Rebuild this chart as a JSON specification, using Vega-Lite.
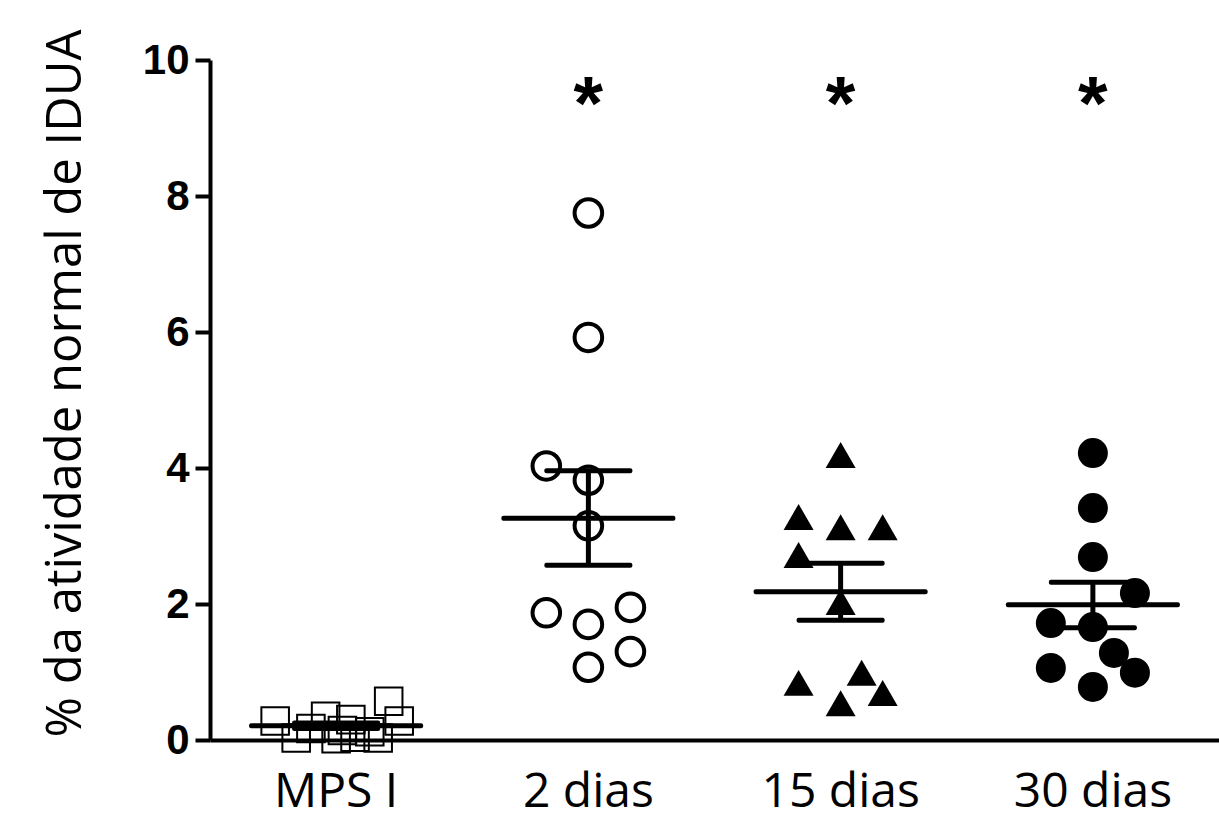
{
  "$schema": "https://vega.github.io/schema/vega-lite/v6.json",
  "autosize": {"type": "none"},
  "padding": {"left": 210, "top": 60, "right": 0, "bottom": 75},
  "width": 1009,
  "height": 680,
  "background": "white",
  "config": {"view": {"stroke": null}},
  "datasets": {
    "points": [
      {"group": "MPS I", "col": -2.9, "value": 0.28},
      {"group": "MPS I", "col": -1.9, "value": 0.03},
      {"group": "MPS I", "col": -0.5, "value": 0.35},
      {"group": "MPS I", "col": 0.0, "value": 0.02},
      {"group": "MPS I", "col": 0.7, "value": 0.30},
      {"group": "MPS I", "col": 0.9, "value": 0.04},
      {"group": "MPS I", "col": 2.5, "value": 0.57},
      {"group": "MPS I", "col": 2.0, "value": 0.03},
      {"group": "MPS I", "col": 3.0, "value": 0.28},
      {"group": "MPS I", "col": -1.2, "value": 0.17},
      {"group": "MPS I", "col": 0.3, "value": 0.14},
      {"group": "MPS I", "col": 1.6, "value": 0.12},
      {"group": "2 dias", "col": 0, "value": 7.75},
      {"group": "2 dias", "col": 0, "value": 5.92},
      {"group": "2 dias", "col": -2, "value": 4.03},
      {"group": "2 dias", "col": 0, "value": 3.82},
      {"group": "2 dias", "col": 0, "value": 3.15},
      {"group": "2 dias", "col": -2, "value": 1.87},
      {"group": "2 dias", "col": 0, "value": 1.70},
      {"group": "2 dias", "col": 2, "value": 1.95},
      {"group": "2 dias", "col": 0, "value": 1.07},
      {"group": "2 dias", "col": 2, "value": 1.30},
      {"group": "15 dias", "col": 0, "value": 4.19},
      {"group": "15 dias", "col": -2, "value": 3.28},
      {"group": "15 dias", "col": 0, "value": 3.13},
      {"group": "15 dias", "col": 2, "value": 3.13},
      {"group": "15 dias", "col": -2, "value": 2.72},
      {"group": "15 dias", "col": 0, "value": 2.03},
      {"group": "15 dias", "col": -2, "value": 0.84},
      {"group": "15 dias", "col": 1, "value": 0.99},
      {"group": "15 dias", "col": 2, "value": 0.69},
      {"group": "15 dias", "col": 0, "value": 0.54},
      {"group": "30 dias", "col": 0, "value": 4.22},
      {"group": "30 dias", "col": 0, "value": 3.41},
      {"group": "30 dias", "col": 0, "value": 2.69},
      {"group": "30 dias", "col": 2, "value": 2.16},
      {"group": "30 dias", "col": -2, "value": 1.72},
      {"group": "30 dias", "col": 0, "value": 1.66},
      {"group": "30 dias", "col": 1, "value": 1.28},
      {"group": "30 dias", "col": -2, "value": 1.06},
      {"group": "30 dias", "col": 2, "value": 0.99},
      {"group": "30 dias", "col": 0, "value": 0.78}
    ],
    "summary": [
      {"group": "MPS I", "mean": 0.21, "lo": 0.17, "hi": 0.25},
      {"group": "2 dias", "mean": 3.26, "lo": 2.57, "hi": 3.96},
      {"group": "15 dias", "mean": 2.18, "lo": 1.76, "hi": 2.6},
      {"group": "30 dias", "mean": 1.99, "lo": 1.65, "hi": 2.32}
    ],
    "stars": [
      {"group": "2 dias", "pos": 9.5, "label": "*"},
      {"group": "15 dias", "pos": 9.5, "label": "*"},
      {"group": "30 dias", "pos": 9.5, "label": "*"}
    ]
  },
  "encoding": {
    "x": {
      "field": "group",
      "type": "nominal",
      "sort": ["MPS I", "2 dias", "15 dias", "30 dias"],
      "scale": {"domain": ["MPS I", "2 dias", "15 dias", "30 dias"], "paddingInner": 0, "paddingOuter": 0},
      "axis": {
        "title": null,
        "labelAngle": 0,
        "labelFont": "Open Sans",
        "labelFontSize": 48,
        "labelColor": "black",
        "labelPadding": 28,
        "ticks": false,
        "domainColor": "black",
        "domainWidth": 4
      }
    }
  },
  "layer": [
    {
      "data": {"name": "points"},
      "transform": [{"filter": "datum.group === 'MPS I'"}],
      "mark": {"type": "point", "shape": "square", "size": 760, "filled": false, "stroke": "black", "strokeWidth": 2, "opacity": 1},
      "encoding": {
        "xOffset": {"field": "col", "type": "quantitative", "scale": {"domain": [-6, 6], "range": [0, 252.25]}},
        "y": {
          "field": "value",
          "type": "quantitative",
          "title": "% da atividade normal de IDUA",
          "scale": {"domain": [0, 10], "nice": false},
          "axis": {
            "values": [0, 2, 4, 6, 8, 10],
            "format": "d",
            "grid": false,
            "labelFont": "Liberation Sans",
            "labelFontWeight": "bold",
            "labelFontSize": 42,
            "labelColor": "black",
            "labelPadding": 6,
            "tickSize": 15,
            "tickWidth": 4,
            "tickColor": "black",
            "domainColor": "black",
            "domainWidth": 4,
            "titleFont": "Open Sans",
            "titleFontSize": 49,
            "titleFontWeight": "normal",
            "titleColor": "black",
            "titleAngle": 270,
            "titleAlign": "center",
            "titleBaseline": "alphabetic",
            "titleX": -130,
            "titleY": 323
          }
        }
      }
    },
    {
      "data": {"name": "points"},
      "transform": [{"filter": "datum.group === '2 dias'"}],
      "mark": {"type": "point", "shape": "circle", "size": 760, "filled": false, "stroke": "black", "strokeWidth": 4, "opacity": 1},
      "encoding": {
        "xOffset": {"field": "col", "type": "quantitative", "scale": {"domain": [-6, 6], "range": [0, 252.25]}},
        "y": {"field": "value", "type": "quantitative", "title": "% da atividade normal de IDUA"}
      }
    },
    {
      "data": {"name": "points"},
      "transform": [{"filter": "datum.group === '15 dias'"}],
      "mark": {"type": "point", "shape": "triangle-up", "size": 900, "filled": true, "fill": "black", "strokeWidth": 0, "opacity": 1},
      "encoding": {
        "xOffset": {"field": "col", "type": "quantitative", "scale": {"domain": [-6, 6], "range": [0, 252.25]}},
        "y": {"field": "value", "type": "quantitative", "title": "% da atividade normal de IDUA"}
      }
    },
    {
      "data": {"name": "points"},
      "transform": [{"filter": "datum.group === '30 dias'"}],
      "mark": {"type": "point", "shape": "circle", "size": 900, "filled": true, "fill": "black", "strokeWidth": 0, "opacity": 1},
      "encoding": {
        "xOffset": {"field": "col", "type": "quantitative", "scale": {"domain": [-6, 6], "range": [0, 252.25]}},
        "y": {"field": "value", "type": "quantitative", "title": "% da atividade normal de IDUA"}
      }
    },
    {
      "data": {"name": "summary"},
      "mark": {"type": "rule", "strokeWidth": 5, "color": "black"},
      "encoding": {
        "y": {"field": "lo", "type": "quantitative", "title": "% da atividade normal de IDUA"},
        "y2": {"field": "hi"}
      }
    },
    {
      "data": {"name": "summary"},
      "mark": {"type": "tick", "size": 174, "thickness": 5, "color": "black", "opacity": 1, "cornerRadius": 2},
      "encoding": {
        "y": {"field": "mean", "type": "quantitative", "title": "% da atividade normal de IDUA"}
      }
    },
    {
      "data": {"name": "summary"},
      "mark": {"type": "tick", "size": 88, "thickness": 5, "color": "black", "opacity": 1, "cornerRadius": 2},
      "encoding": {
        "y": {"field": "lo", "type": "quantitative", "title": "% da atividade normal de IDUA"}
      }
    },
    {
      "data": {"name": "summary"},
      "mark": {"type": "tick", "size": 88, "thickness": 5, "color": "black", "opacity": 1, "cornerRadius": 2},
      "encoding": {
        "y": {"field": "hi", "type": "quantitative", "title": "% da atividade normal de IDUA"}
      }
    },
    {
      "data": {"name": "stars"},
      "mark": {"type": "text", "font": "Liberation Sans", "fontWeight": "bold", "fontSize": 76, "color": "black", "baseline": "middle", "dy": 12},
      "encoding": {
        "y": {"field": "pos", "type": "quantitative", "title": "% da atividade normal de IDUA"},
        "text": {"field": "label"}
      }
    }
  ]
}
